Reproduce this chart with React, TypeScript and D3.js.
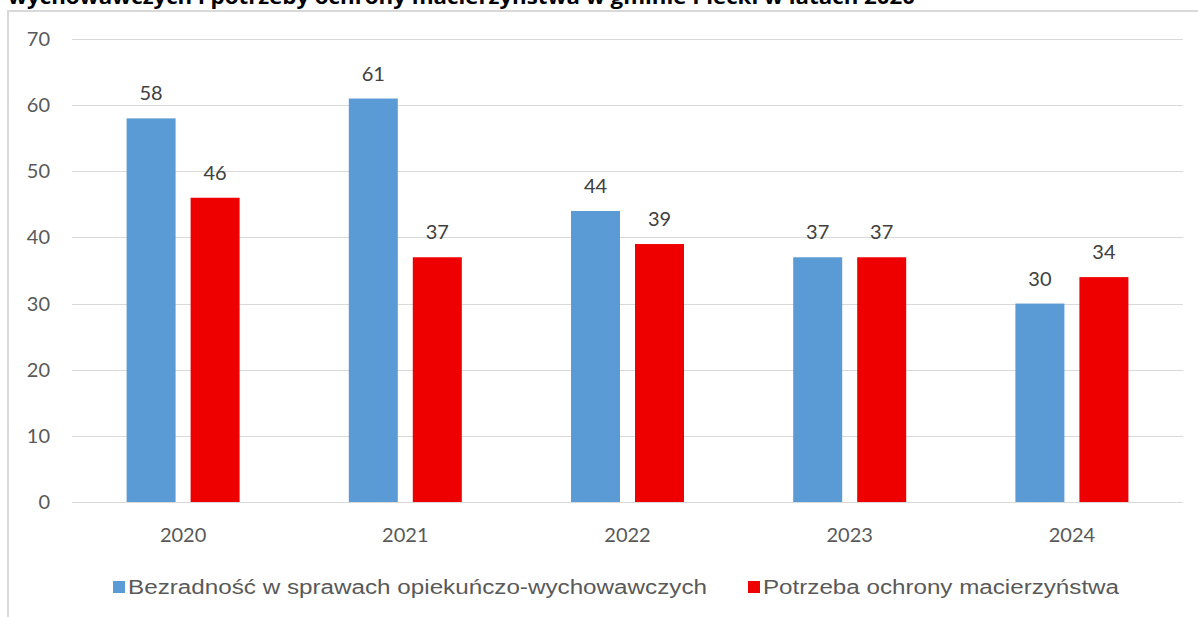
import React, { useEffect, useRef } from 'react'
import * as d3 from 'd3'

const years = ['2020', '2021', '2022', '2023', '2024']
const seriesNames = ['Bezradność w sprawach opiekuńczo-wychowawczych', 'Potrzeba ochrony macierzyństwa']
const bezradnosc = [58, 61, 44, 37, 30]
const macierzynstwo = [46, 37, 39, 37, 34]
const yTicks = [0, 10, 20, 30, 40, 50, 60, 70]
const colors = ['#5b9bd5', '#ee0000']
const title = 'wychowawczych i potrzeby ochrony macierzyństwa w gminie Piecki w latach 2020'

const W = 1198
const H = 617

function App() {
    const ref = useRef<SVGSVGElement>(null)

    useEffect(() => {
        const svg = d3.select(ref.current)
        svg.selectAll('*').remove()

        const left = 72, right = 1183, top = 39, bottom = 502
        const values = [bezradnosc, macierzynstwo]

        const x0 = d3.scaleBand().domain(years).range([left, right]).padding(0)
        const x1 = d3.scaleBand<number>()
            .domain([0, 1])
            .range([x0.bandwidth() / 2 - 56.5, x0.bandwidth() / 2 + 56.5])
            .paddingInner(15 / 64)
        const y = d3.scaleLinear().domain([0, 70]).range([bottom, top])

        // title, cut off at the top like the source
        svg.append('text')
            .attr('x', 8)
            .attr('y', 4)
            .attr('font-family', 'Open Sans, sans-serif')
            .attr('font-weight', 'bold')
            .attr('font-size', 19)
            .attr('textLength', 907)
            .attr('lengthAdjust', 'spacingAndGlyphs')
            .attr('fill', '#000')
            .text(title)

        // chart frame
        svg.append('path')
            .attr('d', `M8,${H}V11H${W}`)
            .attr('fill', 'none')
            .attr('stroke', '#d9d9d9')
            .attr('stroke-width', 2)

        // grid
        svg.append('g')
            .selectAll('line')
            .data(yTicks)
            .join('line')
            .attr('x1', left)
            .attr('x2', right)
            .attr('y1', d => Math.round(y(d)) + 0.5)
            .attr('y2', d => Math.round(y(d)) + 0.5)
            .attr('stroke', '#d9d9d9')
            .attr('stroke-width', 1)

        svg.append('g')
            .selectAll('text')
            .data(yTicks)
            .join('text')
            .attr('x', 50)
            .attr('y', d => y(d))
            .attr('dy', '0.35em')
            .attr('text-anchor', 'end')
            .attr('font-family', 'Lato, sans-serif')
            .attr('font-size', 20)
            .attr('fill', '#595959')
            .text(d => d)

        // bars
        const groups = svg.append('g')
            .selectAll('g')
            .data(years)
            .join('g')
            .attr('transform', d => `translate(${x0(d)},0)`)

        values.forEach((vals, s) => {
            groups.append('rect')
                .attr('x', x1(s)!)
                .attr('width', x1.bandwidth())
                .attr('y', (_d, i) => y(vals[i]))
                .attr('height', (_d, i) => bottom - y(vals[i]))
                .attr('fill', colors[s])

            groups.append('text')
                .attr('x', x1(s)! + x1.bandwidth() / 2)
                .attr('y', (_d, i) => y(vals[i]) - 18)
                .attr('text-anchor', 'middle')
                .attr('font-family', 'Lato, sans-serif')
                .attr('font-size', 20)
                .attr('fill', '#404040')
                .text((_d, i) => vals[i])
        })

        // x labels
        svg.append('g')
            .selectAll('text')
            .data(years)
            .join('text')
            .attr('x', d => x0(d)! + x0.bandwidth() / 2)
            .attr('y', 542)
            .attr('text-anchor', 'middle')
            .attr('font-family', 'Lato, sans-serif')
            .attr('font-size', 20)
            .attr('fill', '#595959')
            .text(d => d)

        // legend
        const legendX = [113, 748]
        const legendLen = [579, 356]
        const legend = svg.append('g')
            .selectAll('g')
            .data(seriesNames)
            .join('g')
            .attr('transform', (_d, i) => `translate(${legendX[i]},0)`)
        legend.append('rect')
            .attr('x', 0)
            .attr('y', 581)
            .attr('width', 12)
            .attr('height', 12)
            .attr('fill', (_d, i) => colors[i])
        legend.append('text')
            .attr('x', 15)
            .attr('y', 594)
            .attr('font-family', 'Liberation Sans, Arial, sans-serif')
            .attr('font-size', 20)
            .attr('fill', '#595959')
            .attr('textLength', (_d, i) => legendLen[i])
            .attr('lengthAdjust', 'spacingAndGlyphs')
            .text(d => d)
    }, [])

    return (
        <div style={{ position: 'absolute', left: 0, top: 0, width: W, height: H, background: '#fff' }}>
            <svg ref={ref} width={W} height={H} style={{ display: 'block' }} />
        </div>
    )
}

export default App
